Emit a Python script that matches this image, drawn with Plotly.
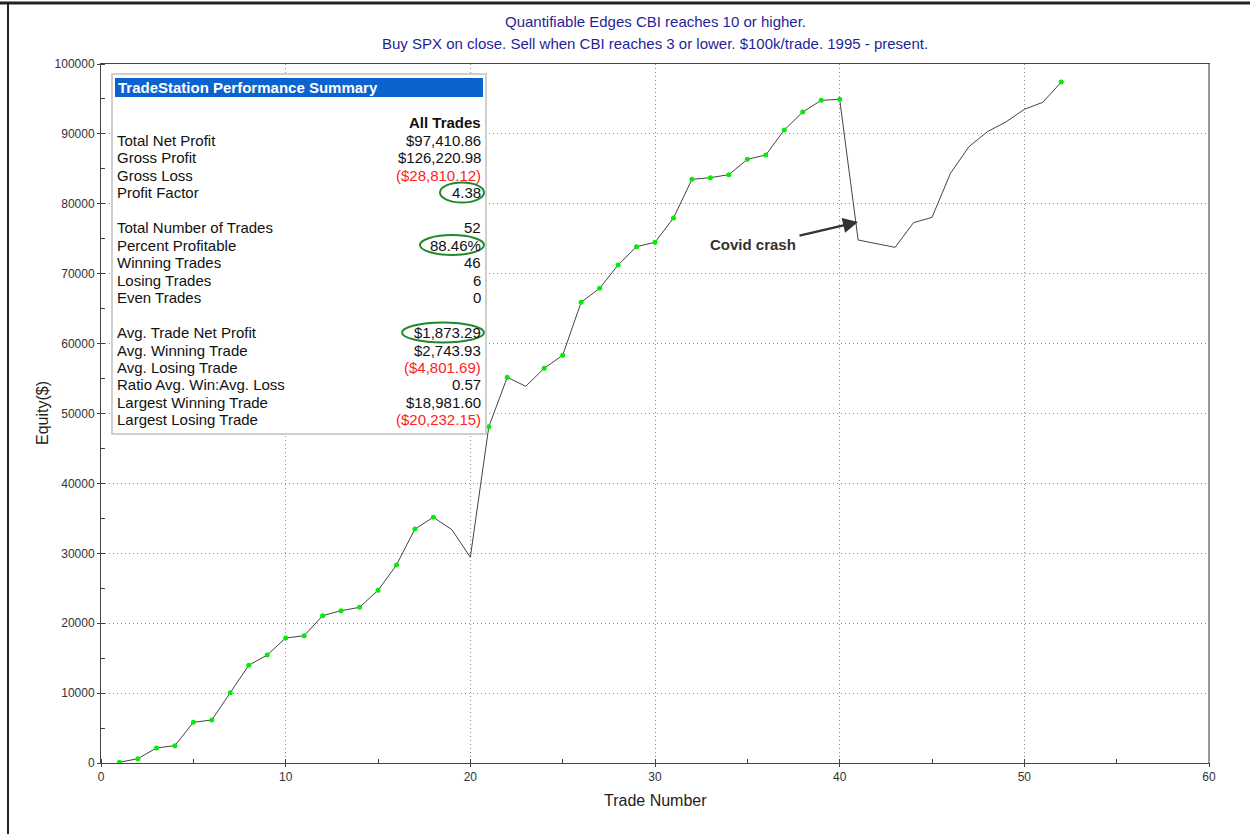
import plotly.graph_objects as go

# ---------------- data ----------------
trade_number = list(range(1, 53))
equity = [100, 620, 2150, 2480, 5820, 6150, 10060, 13970, 15450, 17880,
          18210, 21075, 21790, 22270, 24700, 28330, 33480, 35150, 33380, 29430,
          48100, 55180, 53890, 56470, 58330, 65910, 67910, 71240, 73870, 74490,
          77970, 83500, 83740, 84170, 86360, 86980, 90560, 93130, 94800, 94950,
          74820, 74290, 73770, 77300, 78060, 84360, 88170, 90320, 91700, 93520,
          94520, 97411]
# trades drawn with a green marker in the reference
marked_trades = [1, 2, 3, 4, 5, 6, 7, 8, 9, 10, 11, 12, 13, 14, 15, 16, 17, 18,
                 21, 22, 24, 25, 26, 27, 28, 29, 30, 31, 32, 33, 34, 35, 36, 37,
                 38, 39, 40, 52]

summary_labels = ["Total Net Profit", "Gross Profit", "Gross Loss", "Profit Factor", "",
                  "Total Number of Trades", "Percent Profitable", "Winning Trades",
                  "Losing Trades", "Even Trades", "",
                  "Avg. Trade Net Profit", "Avg. Winning Trade", "Avg. Losing Trade",
                  "Ratio Avg. Win:Avg. Loss", "Largest Winning Trade", "Largest Losing Trade"]
summary_values = ["$97,410.86", "$126,220.98", "($28,810.12)", "4.38", "",
                  "52", "88.46%", "46", "6", "0", "",
                  "$1,873.29", "$2,743.93", "($4,801.69)", "0.57", "$18,981.60", "($20,232.15)"]
highlighted = {3: 44, 6: 64, 11: 82}   # row index -> ellipse width (px)

title_lines = ["Quantifiable Edges CBI reaches 10 or higher.",
               "Buy SPX on close. Sell when CBI reaches 3 or lower. $100k/trade. 1995 - present."]

# ---------------- geometry helpers (pixel -> paper) ----------------
W, H = 1250, 834
L, R, T, B = 101, 1209, 64, 763


def px(x):
    return (x - L) / (R - L)


def py(y):
    return (B - y) / (B - T)


FONT = "Liberation Sans, Arial, sans-serif"

fig = go.Figure()
fig.add_trace(go.Scatter(x=trade_number, y=equity, mode="lines",
                         line=dict(color="#444444", width=1), hoverinfo="skip",
                         showlegend=False))
mx = [t for t in trade_number if t in marked_trades]
my = [equity[t - 1] for t in mx]
fig.add_trace(go.Scatter(x=mx, y=my, mode="markers",
                         marker=dict(color="#00ee00", size=5, symbol="circle",
                                     line=dict(width=0)),
                         showlegend=False))

shapes = []
annotations = []

# outer frame (top and left)
shapes.append(dict(type="line", xref="paper", yref="paper", x0=px(0), x1=px(W),
                   y0=py(3), y1=py(3), line=dict(color="#222222", width=3)))
shapes.append(dict(type="line", xref="paper", yref="paper", x0=px(8), x1=px(8),
                   y0=py(2), y1=py(H), line=dict(color="#222222", width=2)))
# right plot border in light gray
shapes.append(dict(type="line", xref="paper", yref="paper", x0=1, x1=1,
                   y0=0, y1=1, line=dict(color="#999999", width=2)))

# summary box
shapes.append(dict(type="rect", xref="paper", yref="paper", x0=px(112), x1=px(486),
                   y0=py(434), y1=py(74), fillcolor="white",
                   line=dict(color="#cfcfcf", width=2), layer="above"))
shapes.append(dict(type="rect", xref="paper", yref="paper", x0=px(115), x1=px(483),
                   y0=py(97), y1=py(78), fillcolor="#0b63cf",
                   line=dict(width=0), layer="above"))
annotations.append(dict(xref="paper", yref="paper", x=px(116), y=py(87.5),
                        xanchor="left", yanchor="middle", showarrow=False,
                        text="<b>TradeStation Performance Summary</b>",
                        font=dict(family=FONT, size=15, color="white")))
annotations.append(dict(xref="paper", yref="paper", x=px(483), y=py(122),
                        xanchor="right", yanchor="middle", showarrow=False,
                        text="<b>All Trades</b>",
                        font=dict(family=FONT, size=15, color="#111111")))
row0, step = 140, 17.5
for i, (lab, val) in enumerate(zip(summary_labels, summary_values)):
    yc = row0 + i * step
    if lab:
        annotations.append(dict(xref="paper", yref="paper", x=px(115), y=py(yc),
                                xanchor="left", yanchor="middle", showarrow=False,
                                text=lab, font=dict(family=FONT, size=15, color="#111111")))
    if val:
        col = "#ff2222" if val.startswith("(") else "#111111"
        annotations.append(dict(xref="paper", yref="paper", x=px(483), y=py(yc),
                                xanchor="right", yanchor="middle", showarrow=False,
                                text=val, font=dict(family=FONT, size=15, color=col)))
    if i in highlighted:
        w = highlighted[i]
        shapes.append(dict(type="circle", xref="paper", yref="paper",
                           x0=px(484 - w), x1=px(484), y0=py(yc + 10), y1=py(yc - 10),
                           line=dict(color="#1f8a2a", width=2), layer="above"))

# titles
for j, (line_txt, yy) in enumerate(zip(title_lines, [22, 43])):
    annotations.append(dict(xref="paper", yref="paper", x=px(655), y=py(yy),
                            xanchor="center", yanchor="middle", showarrow=False,
                            text=line_txt,
                            font=dict(family=FONT, size=15, color="#1f1f99")))

# axis titles
annotations.append(dict(xref="paper", yref="paper", x=px(655), y=py(800),
                        xanchor="center", yanchor="middle", showarrow=False,
                        text="Trade Number", font=dict(family=FONT, size=16, color="#222222")))
annotations.append(dict(xref="paper", yref="paper", x=px(42), y=py(413),
                        xanchor="center", yanchor="middle", showarrow=False, textangle=-90,
                        text="Equity($)", font=dict(family=FONT, size=16, color="#222222")))

# covid annotation
annotations.append(dict(xref="paper", yref="paper", x=px(753), y=py(244),
                        xanchor="center", yanchor="middle", showarrow=False,
                        text="<b>Covid crash</b>",
                        font=dict(family=FONT, size=15, color="#333333")))
annotations.append(dict(xref="paper", yref="paper", x=px(858), y=py(222),
                        ax=-60, ay=14, axref="pixel", ayref="pixel",
                        showarrow=True, arrowhead=2, arrowsize=1.2, arrowwidth=2.5,
                        arrowcolor="#333333", text=""))

fig.update_layout(
    width=W, height=H,
    margin=dict(l=L, r=W - R, t=T, b=H - B),
    paper_bgcolor="white", plot_bgcolor="white",
    shapes=shapes, annotations=annotations,
    showlegend=False,
    xaxis=dict(range=[0, 60], dtick=10, tick0=0, showgrid=True, gridcolor="#8c8c8c",
               griddash="1px,3px", gridwidth=1, zeroline=False,
               showline=True, linecolor="#444444", linewidth=1, mirror=True,
               ticks="outside", ticklen=3, tickcolor="#444444",
               minor=dict(dtick=5, ticks="inside", ticklen=4, tickcolor="#444444",
                          showgrid=False),
               tickfont=dict(family=FONT, size=12, color="#333333")),
    yaxis=dict(range=[0, 100000], dtick=10000, tick0=0, showgrid=True, gridcolor="#8c8c8c",
               griddash="1px,3px", gridwidth=1, zeroline=False, tickformat="d",
               showline=True, linecolor="#444444", linewidth=1, mirror=True,
               ticks="outside", ticklen=3, tickcolor="#444444",
               minor=dict(dtick=5000, ticks="inside", ticklen=4, tickcolor="#444444",
                          showgrid=False),
               tickfont=dict(family=FONT, size=12, color="#333333")),
)

fig.write_html("out.html", config={"displayModeBar": False},
               post_script="document.body.style.margin='0';document.body.style.overflow='hidden';")
